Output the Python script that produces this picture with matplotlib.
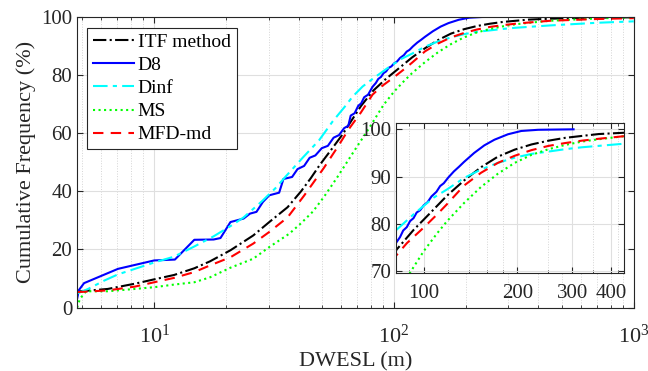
import numpy as np
import matplotlib
matplotlib.use('Agg')
import matplotlib.pyplot as plt
from matplotlib.ticker import FixedLocator, FixedFormatter, NullFormatter, LogLocator

plt.rcParams['font.family'] = ['Liberation Serif', 'DejaVu Serif']
plt.rcParams['mathtext.fontset'] = 'custom'
plt.rcParams['mathtext.rm'] = 'Liberation Serif'
plt.rcParams['mathtext.it'] = 'Liberation Serif:italic'

# curves (x in m, y in %)
itf_x = [4.77, 6.4, 8.3, 10, 12.1, 14.7, 17.1, 20.8, 25.9, 30.2, 36, 41, 45, 49, 55, 61, 67, 73, 82, 92.8, 105, 119,
         135, 153, 173, 196, 222, 252, 285, 322, 365, 448, 600, 1000]
itf_y = [5.5, 6.4, 8.2, 9.7, 11.2, 13.5, 15.9, 19.7, 24.8, 29.4, 34.5, 40, 44.5, 49, 54.5, 59.5, 64.7, 69.4, 74.6, 78.7, 82.3, 86,
         89.2, 92, 94.2, 95.7, 96.8, 97.6, 98.2, 98.6, 99.0, 99.3, 99.6, 99.8]

d8_x = [4.77, 4.85, 5.1, 7.06, 10, 12.2, 14.7, 17.7, 18.9, 20.8, 23.6, 25.1, 26.7, 28.4, 30.2, 33.2, 34.6, 37.6, 39.6, 42.2,
        44.5, 47, 50, 53, 56, 59, 62, 64.5, 66, 68.5, 71, 73, 75.1, 78, 81.4, 84, 86, 88.3, 90.5, 92.8, 95, 97.5, 100, 103,
        106, 110, 113, 116.1, 120, 125.1, 130, 134.8, 145.3, 156.6, 168.8, 186.5, 205.9, 233.2, 303]
d8_y = [3, 6, 8.4, 13.3, 16.2, 16.5, 23.3, 23.4, 23.9, 29.4, 30.6, 32.3, 32.9, 36.3, 38.6, 39.5, 44.2, 44.9, 47.6, 48.7,
        51.5, 52.3, 54.8, 55.6, 58.4, 59.3, 61.7, 62.5, 66, 66.8, 69.4, 70.2, 72.3, 73.2, 75.9, 77.2, 78.6, 79.3, 80.6, 81.2,
        82.4, 82.9, 83.9, 84.6, 85.8, 86.8, 88.0, 88.6, 89.8, 91.1, 92.1, 93.1, 95.0, 96.6, 97.8, 98.95, 99.65, 99.9, 100]

dinf_x = [4.77, 5.3, 6.2, 7.06, 8.3, 10, 12.1, 14.7, 17.7, 20.8, 23.6, 28.1, 32, 35.3, 41.6, 48.7, 55.5, 62, 67.2, 74,
          81.4, 92.8, 100, 108, 119, 134.8, 152.8, 173.1, 196, 222, 252, 285, 322, 365, 448, 700, 1000]
dinf_y = [4.8, 6.4, 9.3, 11.4, 13.3, 15.5, 17.5, 21, 24.5, 28, 31, 36.5, 41, 45, 51.5, 57.5, 64, 68.8, 72.5, 76,
          78.6, 82, 83.8, 85.6, 87.3, 89.7, 91.5, 92.9, 94.0, 94.8, 95.3, 95.8, 96.2, 96.5, 97.0, 97.9, 98.4]

ms_x = [4.77, 4.9, 5.2, 6.4, 8.3, 10, 12.1, 14.7, 17.1, 20.8, 25.9, 30.2, 36.6, 41, 45.9, 51, 57.7, 67.2, 78.9, 90.5,
        100, 110.5, 119, 134.8, 152.8, 173.1, 196, 222, 252, 285, 322, 365, 448, 700, 1000]
ms_y = [0, 3, 5.6, 5.6, 6.4, 7, 7.9, 8.7, 10.4, 13.7, 16.8, 20.8, 25.4, 29, 33, 38, 44.5, 53, 61.8, 69.7,
        74.2, 78, 80.6, 84.4, 87.8, 90.6, 92.9, 94.6, 95.8, 96.7, 97.4, 97.9, 98.6, 99.4, 99.8]

mfd_x = [4.77, 6.4, 8.3, 10, 12.1, 14.7, 17.1, 20.8, 25.9, 30.2, 36, 42.2, 51, 58, 65, 72.7, 81.4, 88.3, 100, 110.5,
         119, 134.8, 152.8, 173.1, 196, 222, 252, 285, 322, 365, 448, 700, 1000]
mfd_y = [5.3, 5.9, 7.2, 8.7, 10.2, 12.2, 14.5, 17.3, 22, 26, 31, 38.5, 48, 55, 61.5, 67, 73.2, 75.9, 79.2, 82,
         84.2, 88.1, 90.8, 92.9, 94.4, 95.6, 96.5, 97.1, 97.6, 98.0, 98.6, 99.2, 99.5]

labels = ['ITF method', 'D8', 'Dinf', 'MS', 'MFD-md']
series = [(itf_x, itf_y), (d8_x, d8_y), (dinf_x, dinf_y), (ms_x, ms_y), (mfd_x, mfd_y)]
colors = ['black', '#0000ff', '#00ffff', '#00ff00', '#ff0000']
styles = ['-.', '-', (0, (7, 2.5, 2, 2.5)), ':', (0, (5, 3.5))]

axcol = '#262626'


def style_axes(ax):
    ax.set_xscale('log')
    ax.tick_params(which='both', direction='in', top=True, right=True, colors=axcol, labelsize=15)
    ax.tick_params(which='major', length=4)
    ax.tick_params(which='minor', length=2)
    for s in ax.spines.values():
        s.set_color(axcol)
        s.set_linewidth(0.8)
    ax.grid(True, which='major', color='#dfdfdf', lw=0.8, ls='-')
    ax.grid(True, which='minor', color='#d4d4d4', lw=0.7, ls=':')
    ax.set_axisbelow(True)


fig = plt.figure(figsize=(6.48, 3.71), dpi=100)
ax = fig.add_axes([0.119, 0.171, 0.859, 0.784])
style_axes(ax)
for (xs, ys), lab, c, ls in zip(series, labels, colors, styles):
    ax.plot(xs, ys, color=c, ls=ls, lw=1.5, label=lab)
ax.set_xlim(4.77, 1000)
ax.set_ylim(0, 100)
ax.set_yticks([0, 20, 40, 60, 80, 100])
ax.xaxis.set_major_locator(LogLocator(base=10, numticks=10))
ax.xaxis.set_minor_locator(LogLocator(base=10, subs=np.arange(2, 10), numticks=20))
ax.tick_params(axis='x', which='major', labelsize=16, pad=12)
ax.set_xlabel('DWESL (m)', fontsize=16, color=axcol)
ax.xaxis.set_label_coords(0.5, -0.152)
ax.set_ylabel('Cumulative Frequency (%)', fontsize=16, color=axcol, labelpad=4)
leg = ax.legend(loc='upper left', bbox_to_anchor=(0.018, 0.962), fontsize=14, frameon=True, fancybox=False,
                edgecolor=axcol, framealpha=1, borderaxespad=0, handlelength=2.1, handletextpad=0.2,
                labelspacing=0.28, borderpad=0.3)
leg.get_frame().set_linewidth(0.8)

# inset zoom on the upper part
ins = fig.add_axes([0.611, 0.264, 0.352, 0.404])
style_axes(ins)
ins.set_facecolor('white')
for (xs, ys), c, ls in zip(series, colors, styles):
    ins.plot(xs, ys, color=c, ls=ls, lw=1.5)
ins.set_xlim(81.5, 440)
ins.set_ylim(69.6, 101.3)
ins.set_yticks([70, 80, 90, 100])
ins.xaxis.set_major_locator(FixedLocator([100, 200, 300, 400]))
ins.xaxis.set_major_formatter(FixedFormatter(['100', '200', '300', '400']))
ins.xaxis.set_minor_locator(FixedLocator([90, 120, 140, 160, 180, 250, 350, 420]))
ins.xaxis.set_minor_formatter(NullFormatter())
ins.tick_params(axis='x', which='major', pad=8)

plt.savefig('out.png', dpi=100)
